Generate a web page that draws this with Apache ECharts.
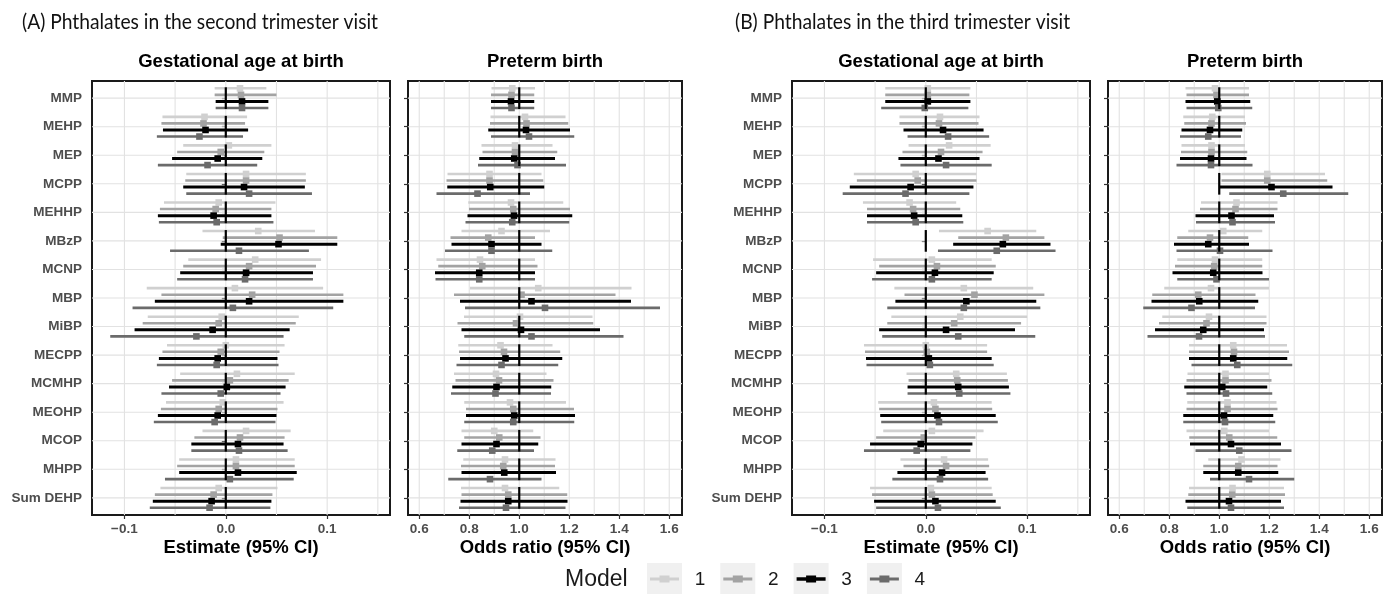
<!DOCTYPE html>
<html><head><meta charset="utf-8">
<script src="https://cdn.jsdelivr.net/npm/echarts@6/dist/echarts.min.js"></script>
<style>html,body{margin:0;padding:0;background:#fff}#c{width:1395px;height:594px}</style>
</head><body><div id="c"></div><script>
const categories = ['MMP','MEHP','MEP','MCPP','MEHHP','MBzP','MCNP','MBP','MiBP','MECPP','MCMHP','MEOHP','MCOP','MHPP','Sum DEHP'];
const models = ['1','2','3','4'];
const gaTicks = [-0.1, 0, 0.1];
const gaMinor = [-0.05, 0.05, 0.15];
const orTicks = [0.6, 0.8, 1.0, 1.2, 1.4, 1.6];
const orMinor = [0.7, 0.9, 1.1, 1.3, 1.5];
const mainTitles = ['(A) Phthalates in the second trimester visit', '(B) Phthalates in the third trimester visit'];
const stripTitles = ['Gestational age at birth', 'Preterm birth', 'Gestational age at birth', 'Preterm birth'];
const axisTitles = ['Estimate (95% CI)', 'Odds ratio (95% CI)', 'Estimate (95% CI)', 'Odds ratio (95% CI)'];
const legendTitle = 'Model';

// rows = categories, columns = models 1..4
// (A) second trimester, gestational age at birth
const gaT2Est = [[0.014,0.015,0.016,0.016],[-0.021,-0.022,-0.020,-0.026],[0.003,-0.005,-0.008,-0.018],[0.020,0.020,0.018,0.023],[-0.007,-0.010,-0.012,-0.009],[0.032,0.053,0.052,0.013],[0.029,0.023,0.020,0.019],[0.009,0.026,0.023,0.007],[-0.004,-0.007,-0.013,-0.029],[0.000,-0.005,-0.008,-0.009],[0.011,0.004,0.001,-0.005],[-0.003,-0.007,-0.008,-0.011],[0.020,0.014,0.012,0.013],[0.010,0.010,0.012,0.004],[-0.007,-0.012,-0.014,-0.016]];
const gaT2Lo = [[-0.011,-0.011,-0.010,-0.010],[-0.0625,-0.0635,-0.062,-0.068],[-0.042,-0.048,-0.053,-0.067],[-0.039,-0.040,-0.042,-0.039],[-0.061,-0.065,-0.067,-0.066],[-0.023,-0.003,-0.005,-0.055],[-0.037,-0.042,-0.045,-0.048],[-0.078,-0.0635,-0.070,-0.092],[-0.077,-0.082,-0.090,-0.114],[-0.058,-0.0625,-0.066,-0.068],[-0.045,-0.053,-0.056,-0.0635],[-0.059,-0.064,-0.067,-0.071],[-0.023,-0.031,-0.034,-0.034],[-0.046,-0.048,-0.046,-0.060],[-0.0645,-0.070,-0.072,-0.075]];
const gaT2Hi = [[0.040,0.050,0.042,0.042],[0.021,0.019,0.022,0.017],[0.045,0.038,0.036,0.031],[0.079,0.079,0.078,0.085],[0.049,0.045,0.045,0.047],[0.088,0.110,0.110,0.082],[0.094,0.089,0.086,0.086],[0.096,0.116,0.116,0.106],[0.072,0.069,0.063,0.057],[0.058,0.053,0.051,0.052],[0.068,0.062,0.059,0.054],[0.057,0.051,0.050,0.049],[0.064,0.058,0.057,0.061],[0.068,0.068,0.070,0.067],[0.051,0.046,0.045,0.044]];
// (A) second trimester, preterm birth (odds ratio)
const orT2Est = [[0.972,0.969,0.967,0.969],[1.023,1.029,1.027,1.039],[0.983,0.983,0.980,0.993],[0.881,0.881,0.884,0.833],[0.967,0.976,0.979,0.972],[0.929,0.876,0.889,0.889],[0.843,0.852,0.840,0.840],[1.076,1.009,1.049,1.103],[1.003,0.987,1.007,1.049],[0.925,0.939,0.945,0.929],[0.907,0.919,0.909,0.905],[0.963,0.976,0.980,0.976],[0.900,0.920,0.909,0.892],[0.943,0.936,0.940,0.883],[0.943,0.956,0.956,0.947]];
const orT2Lo = [[0.889,0.887,0.887,0.887],[0.885,0.883,0.876,0.887],[0.849,0.853,0.840,0.835],[0.713,0.709,0.712,0.669],[0.796,0.799,0.793,0.785],[0.769,0.725,0.729,0.703],[0.669,0.676,0.663,0.665],[0.803,0.739,0.763,0.783],[0.779,0.753,0.769,0.780],[0.756,0.759,0.763,0.749],[0.739,0.745,0.732,0.727],[0.780,0.787,0.787,0.780],[0.769,0.780,0.769,0.752],[0.776,0.767,0.769,0.716],[0.767,0.769,0.765,0.759]];
const orT2Hi = [[1.063,1.060,1.060,1.060],[1.185,1.196,1.203,1.220],[1.133,1.152,1.143,1.187],[1.089,1.096,1.100,1.043],[1.176,1.203,1.212,1.200],[1.123,1.063,1.089,1.132],[1.063,1.073,1.063,1.063],[1.449,1.385,1.447,1.563],[1.293,1.296,1.323,1.417],[1.133,1.164,1.172,1.156],[1.109,1.137,1.128,1.127],[1.187,1.219,1.223,1.220],[1.056,1.085,1.076,1.059],[1.145,1.143,1.147,1.089],[1.160,1.192,1.193,1.185]];
// (B) third trimester, gestational age at birth
const gaT3Est = [[0.002,0.002,0.002,-0.001],[0.014,0.013,0.017,0.022],[0.023,0.015,0.0125,0.020],[-0.010,-0.008,-0.015,-0.020],[-0.016,-0.0125,-0.0115,-0.010],[0.061,0.079,0.076,0.070],[0.006,0.011,0.009,0.006],[0.0375,0.048,0.040,0.0375],[0.034,0.028,0.020,0.032],[0.000,0.001,0.003,0.004],[0.030,0.031,0.032,0.033],[0.008,0.0095,0.0115,0.013],[0.006,-0.002,-0.005,-0.009],[0.018,0.020,0.016,0.014],[0.005,0.006,0.0095,0.012]];
const gaT3Lo = [[-0.040,-0.040,-0.040,-0.044],[-0.026,-0.026,-0.022,-0.018],[-0.017,-0.023,-0.027,-0.025],[-0.071,-0.068,-0.075,-0.082],[-0.062,-0.058,-0.058,-0.058],[0.013,0.032,0.027,0.012],[-0.052,-0.046,-0.049,-0.053],[-0.031,-0.021,-0.030,-0.038],[-0.034,-0.038,-0.046,-0.043],[-0.061,-0.060,-0.059,-0.0585],[-0.019,-0.017,-0.018,-0.018],[-0.047,-0.046,-0.045,-0.044],[-0.042,-0.049,-0.055,-0.061],[-0.025,-0.022,-0.028,-0.033],[-0.055,-0.053,-0.051,-0.049]];
const gaT3Hi = [[0.044,0.043,0.044,0.042],[0.053,0.052,0.057,0.0625],[0.064,0.056,0.053,0.065],[0.050,0.050,0.047,0.043],[0.030,0.034,0.036,0.037],[0.109,0.117,0.123,0.128],[0.065,0.069,0.067,0.065],[0.106,0.117,0.109,0.113],[0.100,0.094,0.088,0.108],[0.0605,0.0605,0.065,0.067],[0.080,0.081,0.082,0.0835],[0.065,0.0655,0.069,0.071],[0.057,0.049,0.046,0.044],[0.0615,0.0625,0.059,0.0615],[0.065,0.066,0.069,0.074]];
// (B) third trimester, preterm birth (odds ratio)
const orT3Est = [[0.983,0.989,0.992,0.996],[0.972,0.969,0.963,0.956],[0.969,0.969,0.967,0.967],[1.192,1.192,1.209,1.256],[1.069,1.065,1.049,1.053],[1.016,0.963,0.956,1.003],[0.983,0.980,0.976,0.989],[0.967,0.916,0.920,0.889],[0.959,0.949,0.936,0.919],[1.056,1.059,1.056,1.072],[1.025,1.025,1.012,1.027],[1.033,1.033,1.019,1.023],[1.020,1.040,1.047,1.080],[1.089,1.076,1.076,1.119],[1.053,1.052,1.039,1.047]];
const orT3Lo = [[0.865,0.869,0.865,0.869],[0.856,0.860,0.849,0.843],[0.849,0.847,0.843,0.829],[1.009,1.009,1.000,1.040],[0.927,0.923,0.905,0.907],[0.876,0.832,0.819,0.829],[0.832,0.823,0.813,0.832],[0.780,0.732,0.729,0.696],[0.772,0.759,0.743,0.713],[0.879,0.879,0.879,0.889],[0.873,0.869,0.860,0.869],[0.872,0.869,0.856,0.856],[0.869,0.880,0.883,0.905],[0.956,0.936,0.936,0.963],[0.879,0.876,0.865,0.872]];
const orT3Hi = [[1.119,1.119,1.124,1.132],[1.103,1.107,1.092,1.087],[1.103,1.112,1.109,1.133],[1.423,1.432,1.453,1.516],[1.233,1.233,1.219,1.223],[1.172,1.116,1.119,1.213],[1.172,1.172,1.173,1.199],[1.199,1.145,1.156,1.143],[1.189,1.189,1.179,1.183],[1.271,1.279,1.272,1.292],[1.199,1.209,1.192,1.212],[1.229,1.233,1.216,1.224],[1.199,1.232,1.247,1.289],[1.245,1.233,1.236,1.300],[1.259,1.263,1.247,1.259]];

const colors = ['#d0d0d0', '#a3a3a3', '#000000', '#6b6b6b'];
const lineW = [2.6, 2.6, 3.0, 2.6];
const dodge = 0.92;
const offsets = models.map((_, j) => (j - 1.5) * dodge / 4);
const catIdx = categories.map((_, i) => i + 1);
const FONT = '"Liberation Sans", Arial, sans-serif';

const panels = [
  {est: gaT2Est, lo: gaT2Lo, hi: gaT2Hi, ticks: gaTicks, minor: gaMinor, ref: 0, min: -0.132, max: 0.162, left: 92, width: 298, ylab: true},
  {est: orT2Est, lo: orT2Lo, hi: orT2Hi, ticks: orTicks, minor: orMinor, ref: 1, min: 0.555, max: 1.651, left: 408, width: 274, ylab: false},
  {est: gaT3Est, lo: gaT3Lo, hi: gaT3Hi, ticks: gaTicks, minor: gaMinor, ref: 0, min: -0.132, max: 0.162, left: 792, width: 298, ylab: true},
  {est: orT3Est, lo: orT3Lo, hi: orT3Hi, ticks: orTicks, minor: orMinor, ref: 1, min: 0.555, max: 1.651, left: 1108, width: 274, ylab: false}
];
const TOP = 81, HEIGHT = 434;

const fmt = v => (Math.abs(v) < 1e-9 ? '0.0' : v.toFixed(1)).replace('-', '\u2212');

const grids = [], xAxes = [], yAxes = [], series = [], graphics = [];
panels.forEach((p, k) => {
  grids.push({left: p.left, top: TOP, width: p.width, height: HEIGHT, show: true,
    borderColor: '#1a1a1a', borderWidth: 2, backgroundColor: '#fff'});
  xAxes.push({gridIndex: k, type: 'value', min: p.min, max: p.max,
    axisLine: {show: false},
    axisTick: {show: true, customValues: p.ticks, length: 4, lineStyle: {color: '#333', width: 1.2}},
    axisLabel: {customValues: p.ticks, formatter: fmt, color: '#4d4d4d', fontWeight: 'bold', fontSize: 13.5, fontFamily: FONT, margin: 7},
    splitLine: {show: false}});
  yAxes.push({gridIndex: k, type: 'value', inverse: true, min: 0.4, max: 15.6,
    axisLine: {show: false},
    axisTick: {show: true, customValues: catIdx, length: 4, lineStyle: {color: '#333', width: 1.2}},
    axisLabel: {show: p.ylab, customValues: catIdx, formatter: v => categories[Math.round(v) - 1] || '',
      color: '#4d4d4d', fontWeight: 'bold', fontSize: 13.5, fontFamily: FONT, margin: 10},
    splitLine: {show: false}});
  // vertical grid lines
  series.push({type: 'custom', xAxisIndex: k, yAxisIndex: k, silent: true, z: 1,
    data: p.ticks.concat(p.minor).map(v => [v, 1]),
    renderItem: (params, api) => {
      const cs = params.coordSys; const x = api.coord([api.value(0), 1])[0];
      return {type: 'line', shape: {x1: x, y1: cs.y, x2: x, y2: cs.y + cs.height}, style: {stroke: '#e2e2e2', lineWidth: 1.1}};
    }});
  // horizontal grid lines
  series.push({type: 'custom', xAxisIndex: k, yAxisIndex: k, silent: true, z: 1,
    data: catIdx.map(c => [p.ref, c]),
    renderItem: (params, api) => {
      const cs = params.coordSys; const y = api.coord([api.value(0), api.value(1)])[1];
      return {type: 'line', shape: {x1: cs.x, y1: y, x2: cs.x + cs.width, y2: y}, style: {stroke: '#e2e2e2', lineWidth: 1.1}};
    }});
  // model error bars
  models.forEach((m, j) => {
    series.push({type: 'custom', name: m, xAxisIndex: k, yAxisIndex: k, silent: true, z: 2,
      encode: {x: [1, 2, 3], y: 0},
      data: categories.map((c, i) => [i + 1, p.est[i][j], p.lo[i][j], p.hi[i][j]]),
      renderItem: (params, api) => {
        const y = api.value(0) + offsets[j];
        const a = api.coord([api.value(2), y]), b = api.coord([api.value(3), y]), e = api.coord([api.value(1), y]);
        return {type: 'group', children: [
          {type: 'line', shape: {x1: a[0], y1: a[1], x2: b[0], y2: b[1]}, style: {stroke: colors[j], lineWidth: lineW[j]}},
          {type: 'rect', shape: {x: e[0] - 3.3, y: e[1] - 3.3, width: 6.6, height: 6.6}, style: {fill: colors[j]}}
        ]};
      }});
  });
  // reference line segments
  series.push({type: 'custom', xAxisIndex: k, yAxisIndex: k, silent: true, z: 3,
    data: catIdx.map(c => [p.ref, c]),
    renderItem: (params, api) => {
      const a = api.coord([api.value(0), api.value(1) - 0.38]), b = api.coord([api.value(0), api.value(1) + 0.38]);
      return {type: 'line', shape: {x1: a[0], y1: a[1], x2: b[0], y2: b[1]}, style: {stroke: '#000', lineWidth: 2.2}};
    }});
  const cx = p.left + p.width / 2;
  graphics.push({type: 'text', x: cx, y: 62, silent: true,
    style: {text: stripTitles[k], font: 'bold 18.5px ' + FONT, fill: '#000', textAlign: 'center', textVerticalAlign: 'middle'}});
  graphics.push({type: 'text', x: cx, y: 548, silent: true,
    style: {text: axisTitles[k], font: 'bold 18.5px ' + FONT, fill: '#000', textAlign: 'center', textVerticalAlign: 'middle'}});
});

// main titles: Lato, slightly condensed to the reference width
const titleFam = 'Lato, "Open Sans", sans-serif';
const titleSize = 21.5;
function measure(text, font) {
  const ctx = document.createElement('canvas').getContext('2d');
  ctx.font = font;
  return ctx.measureText(text).width;
}
const tFont = titleSize + 'px ' + titleFam;
const tScale = 356 / measure(mainTitles[0], tFont);
graphics.push({type: 'text', x: 22, y: 22, scaleX: tScale, silent: true, style: {text: mainTitles[0], font: tFont, fill: '#111', textAlign: 'left', textVerticalAlign: 'middle'}});
graphics.push({type: 'text', x: 735, y: 22, scaleX: tScale, silent: true, style: {text: mainTitles[1], font: tFont, fill: '#111', textAlign: 'left', textVerticalAlign: 'middle'}});

// legend
graphics.push({type: 'text', x: 565, y: 580, silent: true, style: {text: legendTitle, font: '23px ' + FONT, fill: '#1a1a1a', textAlign: 'left', textVerticalAlign: 'middle'}});
models.forEach((m, j) => {
  const kx = 647 + j * 73.3;
  graphics.push({type: 'rect', silent: true, shape: {x: kx, y: 563, width: 35, height: 36}, style: {fill: '#f0f0f0'}});
  graphics.push({type: 'line', silent: true, shape: {x1: kx + 3, y1: 579, x2: kx + 32, y2: 579}, style: {stroke: colors[j], lineWidth: j === 2 ? 3.5 : 3}});
  graphics.push({type: 'rect', silent: true, shape: {x: kx + 12.5, y: 575.5, width: 10, height: 7}, style: {fill: colors[j]}});
  graphics.push({type: 'text', x: kx + 53, y: 580, silent: true, style: {text: m, font: '19px ' + FONT, fill: '#1a1a1a', textAlign: 'center', textVerticalAlign: 'middle'}});
});

const chart = echarts.init(document.getElementById('c'));
chart.setOption({animation: false, grid: grids, xAxis: xAxes, yAxis: yAxes, series: series, graphic: graphics});
</script></body></html>
